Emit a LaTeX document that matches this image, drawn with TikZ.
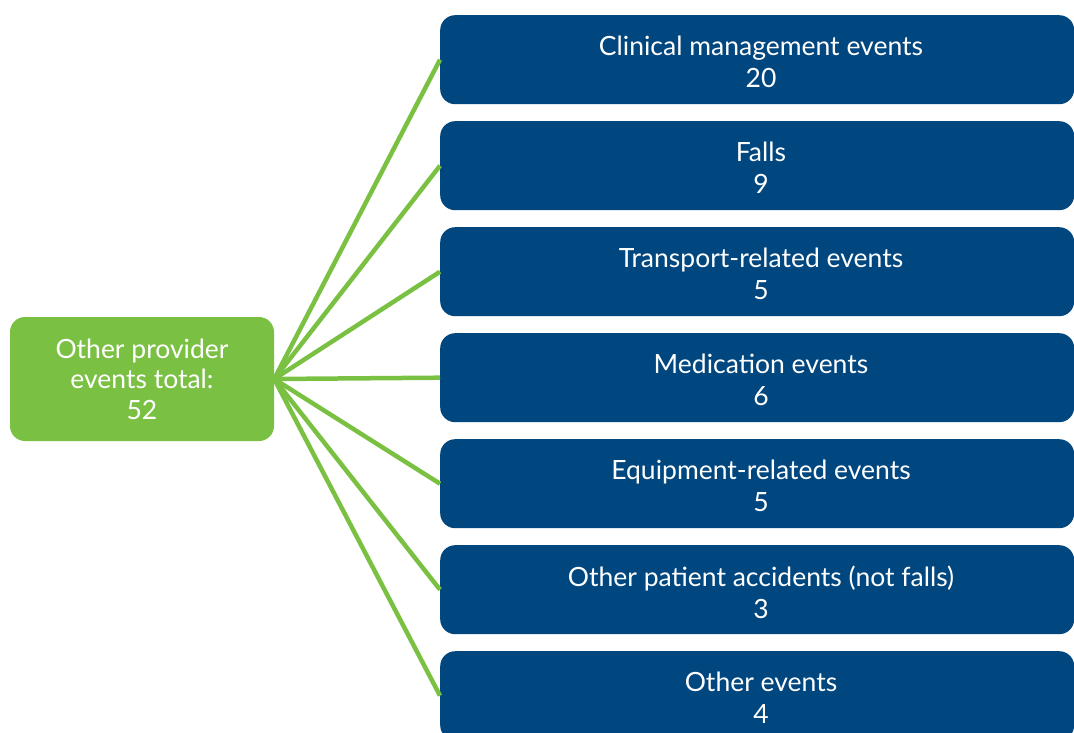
\documentclass[tikz,border=0pt]{standalone}
\usepackage{fontspec}
\setsansfont{Lato}
\renewcommand{\familydefault}{\sfdefault}
\definecolor{boxblue}{HTML}{00467F}
\definecolor{boxgreen}{HTML}{7AC143}
\tikzset{
  catbox/.style={draw=none, fill=boxblue, rounded corners=15pt, minimum width=634pt, minimum height=89pt, inner sep=0pt, anchor=north west},
  cattext/.style={text=white, align=center, font=\fontsize{26.5}{32}\selectfont},
  totalbox/.style={draw=none, fill=boxgreen, rounded corners=15pt, minimum width=264pt, minimum height=124pt, inner sep=0pt, text=white, align=center, font=\fontsize{26.5}{30.5}\selectfont},
  link/.style={draw=boxgreen, line width=4.5pt}
}
\begin{document}
\begin{tikzpicture}[x=1pt,y=-1pt]
\useasboundingbox (0,0) rectangle (1074,733);
\clip (0,0) rectangle (1074,733);
\node[totalbox] (total) at (142,379) {Other provider\\events total:\\52};
\foreach \i/\y in {1/15,2/121,3/227,4/333,5/439,6/545,7/651}{
  \node[catbox] (c\i) at (440,\y) {};
}
\node[cattext] (t1) at (761,62) {Clinical management events\\20};
\node[cattext] (t2) at (761,168) {Falls\\9};
\node[cattext] (t3) at (761,274) {Transport-related events\\5};
\node[cattext] (t4) at (761,380) {Medication events\\6};
\node[cattext] (t5) at (761,486) {Equipment-related events\\5};
\node[cattext] (t6) at (761,592) {Other patient accidents (not falls)\\3};
\node[cattext] (t7) at (761,698) {Other events\\4};
\foreach \i in {1,...,7}{
  \draw[link] (total.east) -- (c\i.west);
}
\end{tikzpicture}
\end{document}
